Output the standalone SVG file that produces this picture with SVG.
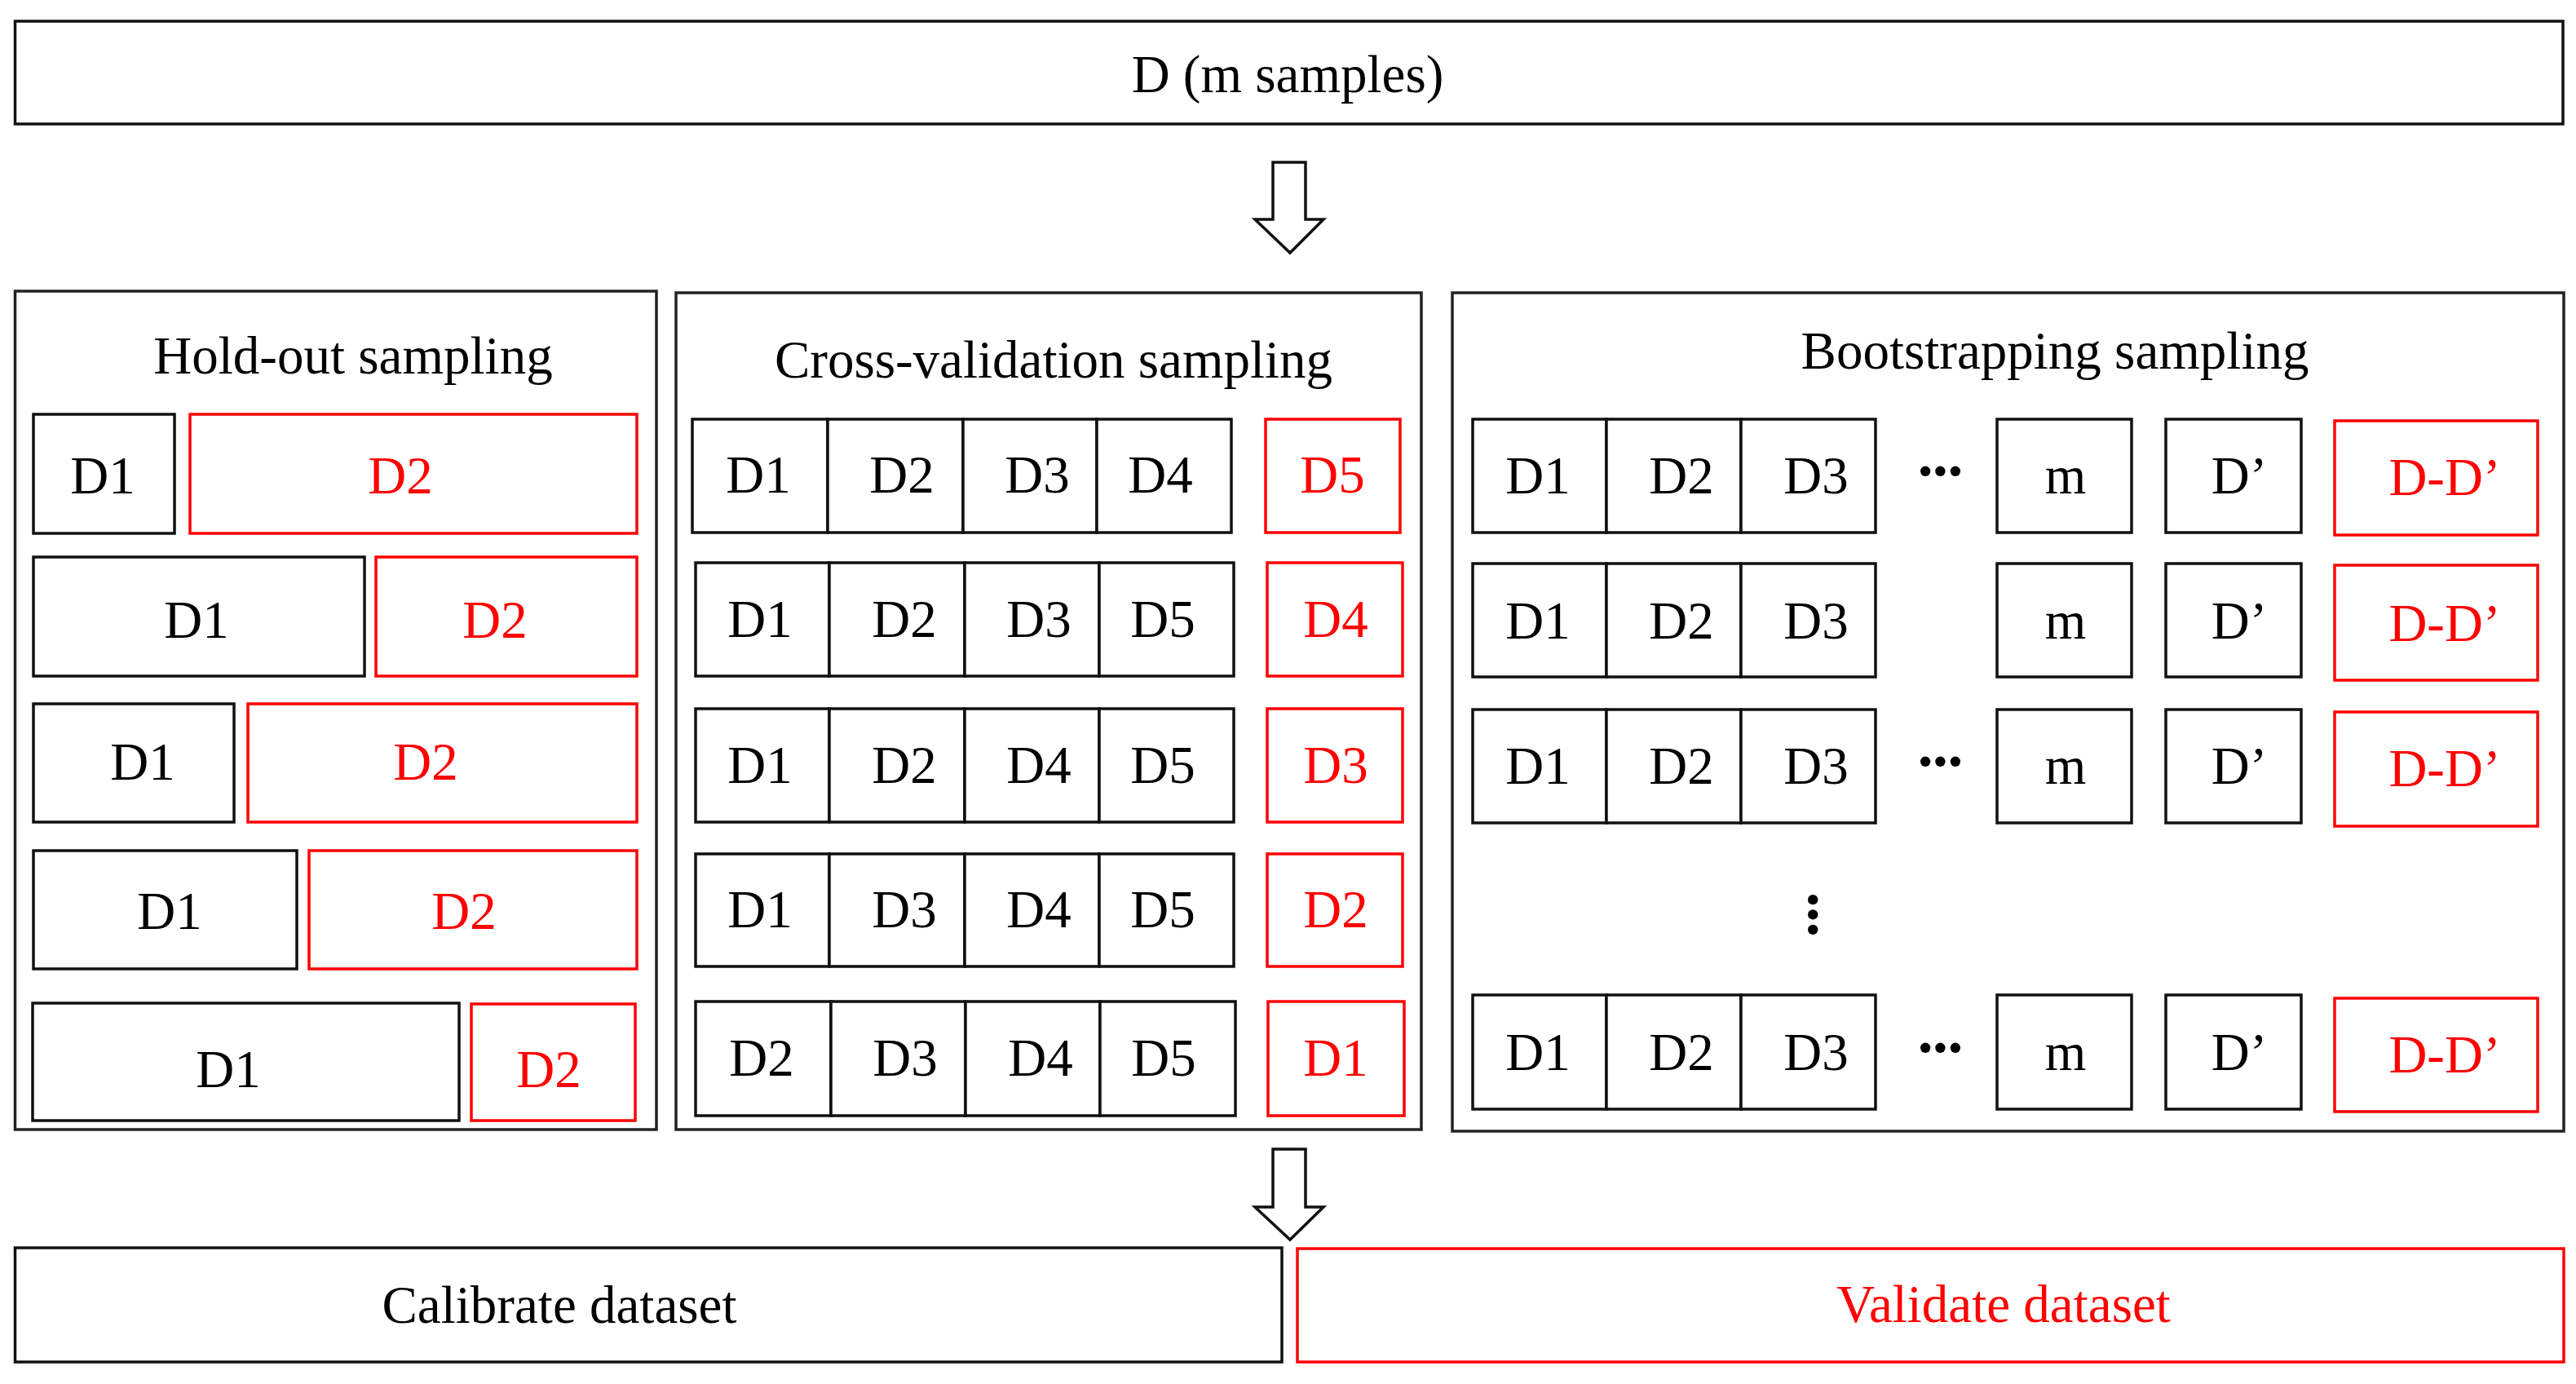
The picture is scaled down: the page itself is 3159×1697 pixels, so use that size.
<svg xmlns="http://www.w3.org/2000/svg" width="3159" height="1697" viewBox="0 0 3159 1697">
<style>
  .b{fill:#fff;stroke:#111;stroke-width:3.5}
  .r{fill:#fff;stroke:#f00;stroke-width:3.5}
  .p{fill:none;stroke:#222;stroke-width:3.5}
  .arr{fill:#fff;stroke:#111;stroke-width:3.5;stroke-linejoin:miter}
  text{font-family:"Liberation Serif","Times New Roman",serif;font-size:65px;text-anchor:middle;fill:#000}
  text.red{fill:#f00}
  text.dots{font-size:76px;font-weight:bold;letter-spacing:-7px}
</style>
<rect width="3159" height="1697" fill="#fff"/>

<g id="top">
  <rect class="b" x="18.5" y="26" width="3124.5" height="126"/>
  <text x="1579" y="113">D (m samples)</text>
</g>

<g id="holdout">
  <rect class="p" x="18.5" y="357" width="786.5" height="1028"/>
  <text x="433" y="458">Hold-out sampling</text>
  <rect class="b" x="41" y="508" width="173" height="146"/>
  <text x="126" y="605">D1</text>
  <rect class="r" x="233" y="508" width="548" height="146"/>
  <text class="red" x="491" y="605">D2</text>
  <rect class="b" x="41" y="683" width="406" height="146"/>
  <text x="241" y="782">D1</text>
  <rect class="r" x="461" y="683" width="320" height="146"/>
  <text class="red" x="607" y="782">D2</text>
  <rect class="b" x="41" y="863" width="246" height="145"/>
  <text x="175" y="956">D1</text>
  <rect class="r" x="304" y="863" width="477" height="145"/>
  <text class="red" x="522" y="956">D2</text>
  <rect class="b" x="41" y="1043" width="323" height="145"/>
  <text x="208" y="1139">D1</text>
  <rect class="r" x="379" y="1043" width="402" height="145"/>
  <text class="red" x="569" y="1139">D2</text>
  <rect class="b" x="40" y="1230" width="523" height="144"/>
  <text x="280" y="1333">D1</text>
  <rect class="r" x="578" y="1231" width="201" height="143"/>
  <text class="red" x="673" y="1333">D2</text>
</g>

<g id="crossval">
  <rect class="p" x="829" y="359" width="914" height="1026"/>
  <text x="1292" y="463">Cross-validation sampling</text>
  <g id="cv-row1">
    <rect class="b" x="849" y="514" width="166" height="139"/>
    <rect class="b" x="1015" y="514" width="166" height="139"/>
    <rect class="b" x="1181" y="514" width="164" height="139"/>
    <rect class="b" x="1345" y="514" width="165" height="139"/>
    <text x="930" y="604">D1</text><text x="1106" y="604">D2</text><text x="1272" y="604">D3</text><text x="1423" y="604">D4</text>
    <rect class="r" x="1552" y="514" width="165" height="139"/>
    <text class="red" x="1634" y="604">D5</text>
  </g>
  <g id="cv-row2">
    <rect class="b" x="853" y="690" width="164" height="139"/>
    <rect class="b" x="1017" y="690" width="166" height="139"/>
    <rect class="b" x="1183" y="690" width="165" height="139"/>
    <rect class="b" x="1348" y="690" width="165" height="139"/>
    <text x="932" y="781">D1</text><text x="1109" y="781">D2</text><text x="1274" y="781">D3</text><text x="1426" y="781">D5</text>
    <rect class="r" x="1554" y="690" width="166" height="139"/>
    <text class="red" x="1638" y="781">D4</text>
  </g>
  <g id="cv-row3">
    <rect class="b" x="853" y="869" width="164" height="139"/>
    <rect class="b" x="1017" y="869" width="166" height="139"/>
    <rect class="b" x="1183" y="869" width="165" height="139"/>
    <rect class="b" x="1348" y="869" width="165" height="139"/>
    <text x="932" y="960">D1</text><text x="1109" y="960">D2</text><text x="1274" y="960">D4</text><text x="1426" y="960">D5</text>
    <rect class="r" x="1554" y="869" width="166" height="139"/>
    <text class="red" x="1638" y="960">D3</text>
  </g>
  <g id="cv-row4">
    <rect class="b" x="853" y="1047" width="164" height="138"/>
    <rect class="b" x="1017" y="1047" width="166" height="138"/>
    <rect class="b" x="1183" y="1047" width="165" height="138"/>
    <rect class="b" x="1348" y="1047" width="165" height="138"/>
    <text x="932" y="1137">D1</text><text x="1109" y="1137">D3</text><text x="1274" y="1137">D4</text><text x="1426" y="1137">D5</text>
    <rect class="r" x="1554" y="1047" width="166" height="138"/>
    <text class="red" x="1638" y="1137">D2</text>
  </g>
  <g id="cv-row5">
    <rect class="b" x="853" y="1228" width="166" height="140"/>
    <rect class="b" x="1019" y="1228" width="165" height="140"/>
    <rect class="b" x="1184" y="1228" width="165" height="140"/>
    <rect class="b" x="1349" y="1228" width="166" height="140"/>
    <text x="934" y="1319">D2</text><text x="1110" y="1319">D3</text><text x="1276" y="1319">D4</text><text x="1427" y="1319">D5</text>
    <rect class="r" x="1555" y="1228" width="167" height="140"/>
    <text class="red" x="1638" y="1319">D1</text>
  </g>
</g>

<g id="bootstrap">
  <rect class="p" x="1781" y="359" width="1363" height="1028"/>
  <text x="2520" y="452">Bootstrapping sampling</text>
  <g id="bs-row1">
    <rect class="b" x="1806" y="514" width="164" height="139"/>
    <rect class="b" x="1970" y="514" width="165" height="139"/>
    <rect class="b" x="2135" y="514" width="165" height="139"/>
    <text x="1886" y="605">D1</text><text x="2062" y="605">D2</text><text x="2227" y="605">D3</text>
    <text class="dots" x="2376" y="603">···</text>
    <rect class="b" x="2449" y="514" width="165" height="139"/>
    <text x="2533" y="605">m</text>
    <rect class="b" x="2656" y="514" width="166" height="139"/>
    <text x="2746" y="605">D’</text>
    <rect class="r" x="2863" y="516" width="249" height="140"/>
    <text class="red" x="2998" y="607">D-D’</text>
  </g>
  <g id="bs-row2">
    <rect class="b" x="1806" y="691" width="164" height="139"/>
    <rect class="b" x="1970" y="691" width="165" height="139"/>
    <rect class="b" x="2135" y="691" width="165" height="139"/>
    <text x="1886" y="783">D1</text><text x="2062" y="783">D2</text><text x="2227" y="783">D3</text>
    <rect class="b" x="2449" y="691" width="165" height="139"/>
    <text x="2533" y="783">m</text>
    <rect class="b" x="2656" y="691" width="166" height="139"/>
    <text x="2746" y="783">D’</text>
    <rect class="r" x="2863" y="693" width="249" height="141"/>
    <text class="red" x="2998" y="786">D-D’</text>
  </g>
  <g id="bs-row3">
    <rect class="b" x="1806" y="870" width="164" height="139"/>
    <rect class="b" x="1970" y="870" width="165" height="139"/>
    <rect class="b" x="2135" y="870" width="165" height="139"/>
    <text x="1886" y="961">D1</text><text x="2062" y="961">D2</text><text x="2227" y="961">D3</text>
    <text class="dots" x="2376" y="959">···</text>
    <rect class="b" x="2449" y="870" width="165" height="139"/>
    <text x="2533" y="961">m</text>
    <rect class="b" x="2656" y="870" width="166" height="139"/>
    <text x="2746" y="961">D’</text>
    <rect class="r" x="2863" y="873" width="249" height="140"/>
    <text class="red" x="2998" y="964">D-D’</text>
  </g>
  <text class="dots" transform="translate(2198,1118) rotate(90)">···</text>
  <g id="bs-row4">
    <rect class="b" x="1806" y="1220" width="164" height="140"/>
    <rect class="b" x="1970" y="1220" width="165" height="140"/>
    <rect class="b" x="2135" y="1220" width="165" height="140"/>
    <text x="1886" y="1312">D1</text><text x="2062" y="1312">D2</text><text x="2227" y="1312">D3</text>
    <text class="dots" x="2376" y="1310">···</text>
    <rect class="b" x="2449" y="1220" width="165" height="140"/>
    <text x="2533" y="1312">m</text>
    <rect class="b" x="2656" y="1220" width="166" height="140"/>
    <text x="2746" y="1312">D’</text>
    <rect class="r" x="2863" y="1224" width="249" height="139"/>
    <text class="red" x="2998" y="1315">D-D’</text>
  </g>
</g>

<g id="calibrate">
  <rect class="b" x="18.5" y="1530" width="1553.5" height="140"/>
  <text x="686" y="1622">Calibrate dataset</text>
</g>
<g id="validate">
  <rect class="r" x="1591" y="1531" width="1553" height="139"/>
  <text class="red" x="2457" y="1621">Validate dataset</text>
</g>

<g id="connectors">
  <path class="arr" d="M1561,199 H1601 V269 H1623 L1582,310 L1539,269 H1561 Z"/>
  <path class="arr" d="M1561,1409 H1601 V1480 H1623 L1582,1520 L1539,1480 H1561 Z"/>
</g>
</svg>
